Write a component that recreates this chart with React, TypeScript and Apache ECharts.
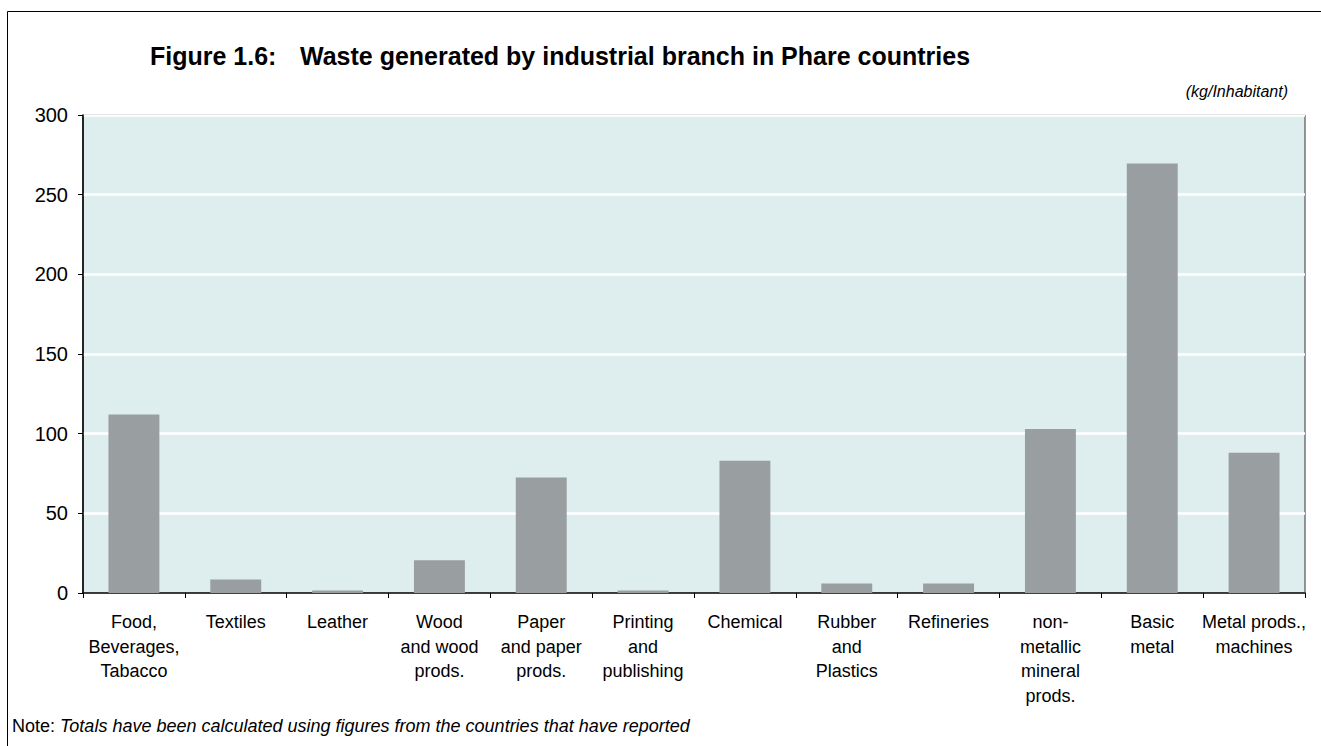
import React, { useEffect, useRef } from "react";
import * as echarts from "echarts";

const categories: string[] = [
  "Food,\nBeverages,\nTabacco",
  "Textiles",
  "Leather",
  "Wood\nand wood\nprods.",
  "Paper\nand paper\nprods.",
  "Printing\nand\npublishing",
  "Chemical",
  "Rubber\nand\nPlastics",
  "Refineries",
  "non-\nmetallic\nmineral\nprods.",
  "Basic\nmetal",
  "Metal prods.,\nmachines",
];

const wastePerInhabitant: number[] = [112, 8.5, 1.5, 20.5, 72.5, 1.5, 83, 6, 6, 103, 269.5, 88];

const yTicks = { min: 0, max: 300, interval: 50 };

const titleLabel = "Figure 1.6:";
const titleText = "Waste generated by industrial branch in Phare countries";
const unitText = "(kg/Inhabitant)";
const noteLabel = "Note: ";
const noteText = "Totals have been calculated using figures from the countries that have reported";

const FONT = "'Liberation Sans', Arial, Helvetica, sans-serif";

export default function App() {
  const ref = useRef<HTMLDivElement>(null);

  useEffect(() => {
    if (!ref.current) return;
    const chart = echarts.init(ref.current, null, { renderer: "svg" });
    chart.setOption({
      animation: false,
      backgroundColor: "#ffffff",
      textStyle: { fontFamily: FONT },
      grid: {
        left: 83,
        top: 115,
        right: 16,
        bottom: 153,
        containLabel: false,
        outerBoundsMode: "none",
        show: true,
        backgroundColor: "#DEEDED",
        borderColor: "#333333",
        borderWidth: 1,
      },
      xAxis: {
        type: "category",
        data: categories,
        boundaryGap: true,
        axisLine: { show: true, lineStyle: { color: "#000000", width: 1.5 } },
        axisTick: { show: true, length: 5, interval: 0, lineStyle: { color: "#000000" } },
        axisLabel: {
          interval: 0,
          margin: 17,
          fontSize: 18,
          lineHeight: 24.5,
          color: "#000000",
          fontFamily: FONT,
          align: "center",
        },
        splitLine: { show: false },
      },
      yAxis: {
        type: "value",
        min: yTicks.min,
        max: yTicks.max,
        interval: yTicks.interval,
        axisLine: { show: true, lineStyle: { color: "#000000", width: 1.5 } },
        axisTick: { show: true, length: 5, lineStyle: { color: "#000000" } },
        axisLabel: { margin: 15, fontSize: 20, color: "#000000", fontFamily: FONT },
        splitLine: { show: true, lineStyle: { color: "#ffffff", width: 2.5 } },
      },
      series: [
        {
          type: "bar",
          data: wastePerInhabitant,
          barCategoryGap: "50%",
          itemStyle: { color: "#999EA1" },
          silent: true,
        },
      ],
      graphic: [
        {
          type: "line",
          shape: { x1: 7.5, y1: 11.5, x2: 1321, y2: 11.5 },
          style: { stroke: "#000000", lineWidth: 1 },
        },
        {
          type: "line",
          shape: { x1: 7.5, y1: 11.5, x2: 7.5, y2: 746 },
          style: { stroke: "#000000", lineWidth: 1 },
        },
        {
          type: "text",
          x: 150,
          y: 56,
          style: {
            text: titleLabel,
            font: `bold 25px ${FONT}`,
            fill: "#000000",
            textAlign: "left",
            textVerticalAlign: "middle",
          },
        },
        {
          type: "text",
          x: 300,
          y: 56,
          style: {
            text: titleText,
            font: `bold 25px ${FONT}`,
            fill: "#000000",
            textAlign: "left",
            textVerticalAlign: "middle",
          },
        },
        {
          type: "text",
          x: 1288,
          y: 91,
          style: {
            text: unitText,
            font: `italic 16px ${FONT}`,
            fill: "#000000",
            textAlign: "right",
            textVerticalAlign: "middle",
          },
        },
        {
          type: "text",
          x: 12,
          y: 726,
          style: {
            text: `{a|${noteLabel}}{b|${noteText}}`,
            textAlign: "left",
            textVerticalAlign: "middle",
            rich: {
              a: { fontSize: 18, fontFamily: FONT, fill: "#000000", color: "#000000" },
              b: { fontSize: 18, fontFamily: FONT, fontStyle: "italic", fill: "#000000", color: "#000000" },
            },
          },
        },
      ],
    });
    return () => chart.dispose();
  }, []);

  return (
    <div
      ref={ref}
      style={{ position: "fixed", left: 0, top: 0, width: 1321, height: 746 }}
    />
  );
}
